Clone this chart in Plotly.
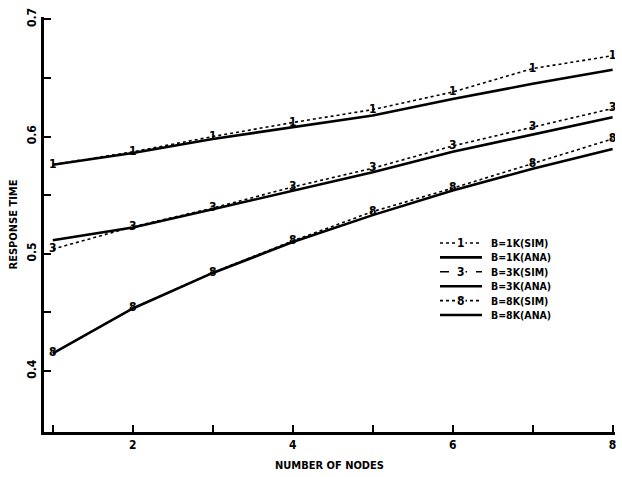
import plotly.graph_objects as go

nodes = [1, 2, 3, 4, 5, 6, 7, 8]
sim_1k = [0.576, 0.587, 0.600, 0.612, 0.623, 0.638, 0.658, 0.669]
ana_1k = [0.576, 0.586, 0.598, 0.608, 0.618, 0.632, 0.645, 0.657]
sim_3k = [0.504, 0.523, 0.539, 0.557, 0.573, 0.592, 0.608, 0.624]
ana_3k = [0.5115, 0.5225, 0.538, 0.554, 0.5695, 0.587, 0.6015, 0.6165]
sim_8k = [0.415, 0.4534, 0.484, 0.511, 0.536, 0.556, 0.577, 0.598]
ana_8k = [0.415, 0.4534, 0.4837, 0.510, 0.533, 0.554, 0.5725, 0.5895]

x_tickvals = [1, 2, 3, 4, 5, 6, 7, 8]
x_ticktext = ["", "2", "", "4", "", "6", "", "8"]
y_tickvals = [0.4, 0.45, 0.5, 0.55, 0.6, 0.65, 0.7]
y_ticktext = ["0.4", "", "0.5", "", "0.6", "", "0.7"]

FONT = "DejaVu Sans Condensed, Liberation Sans Narrow, DejaVu Sans, sans-serif"

# plot-area geometry (pixels) used for the hand-placed legend box
W, H = 622, 477
ML, MR, MT, MB = 44, 7, 17, 45
PW, PH = W - ML - MR, H - MT - MB


def px_x(p):
    return (p - ML) / PW


def px_y(p):
    return 1 - (p - MT) / PH


fig = go.Figure()

series = [
    ("B=1K(SIM)", sim_1k, "1", "dot", 1.6),
    ("B=1K(ANA)", ana_1k, None, "solid", 2.6),
    ("B=3K(SIM)", sim_3k, "3", "dash", 1.6),
    ("B=3K(ANA)", ana_3k, None, "solid", 2.6),
    ("B=8K(SIM)", sim_8k, "8", "dot", 1.6),
    ("B=8K(ANA)", ana_8k, None, "solid", 2.6),
]

shapes = []
annotations = []
for i, (name, ys, glyph, dash, w) in enumerate(series):
    if glyph:
        fig.add_trace(go.Scatter(
            x=nodes, y=ys, name=name, mode="lines+text",
            text=[glyph] * len(nodes), textposition="middle center",
            textfont=dict(family=FONT, size=12, color="black", weight="bold"),
            line=dict(color="black", width=w, dash="dot"),
            showlegend=False,
        ))
    else:
        fig.add_trace(go.Scatter(
            x=nodes, y=ys, name=name, mode="lines",
            line=dict(color="black", width=w, dash=dash),
            showlegend=False,
        ))
    # legend row
    row_y = px_y(243 + i * 14.4)
    shapes.append(dict(
        type="line", xref="paper", yref="paper",
        x0=px_x(440), x1=px_x(482), y0=row_y, y1=row_y,
        line=dict(color="black", width=w, dash=dash),
    ))
    if glyph:
        annotations.append(dict(
            xref="paper", yref="paper", x=px_x(461), y=row_y,
            text=glyph, showarrow=False, xanchor="center", yanchor="middle",
            bgcolor="white", borderpad=0,
            font=dict(family=FONT, size=12, color="black", weight="bold"),
        ))
    annotations.append(dict(
        xref="paper", yref="paper", x=px_x(489), y=row_y,
        text=name, showarrow=False, xanchor="left", yanchor="middle",
        font=dict(family=FONT, size=10.5, color="black", weight="bold"),
    ))

fig.update_layout(
    width=W, height=H,
    margin=dict(l=ML, r=MR, t=MT, b=MB),
    paper_bgcolor="white", plot_bgcolor="white",
    font=dict(family=FONT, color="black", size=12),
    showlegend=False,
    shapes=shapes,
    annotations=annotations,
    xaxis=dict(
        range=[0.89, 8.03], tickvals=x_tickvals, ticktext=x_ticktext,
        ticks="inside", ticklen=7, tickwidth=2, tickcolor="black",
        showline=True, linecolor="black", linewidth=3, showgrid=False, zeroline=False,
        tickfont=dict(family=FONT, size=12, weight="bold"),
        title=dict(text="NUMBER OF NODES", font=dict(family=FONT, size=11, weight="bold"), standoff=10),
    ),
    yaxis=dict(
        range=[0.348, 0.702], tickvals=y_tickvals, ticktext=y_ticktext,
        ticks="inside", ticklen=7, tickwidth=2, tickcolor="black", tickangle=-90,
        showline=True, linecolor="black", linewidth=3, showgrid=False, zeroline=False,
        tickfont=dict(family=FONT, size=12, weight="bold"),
        title=dict(text="RESPONSE TIME", font=dict(family=FONT, size=11, weight="bold"), standoff=6),
    ),
)

fig.write_html("out.html")
